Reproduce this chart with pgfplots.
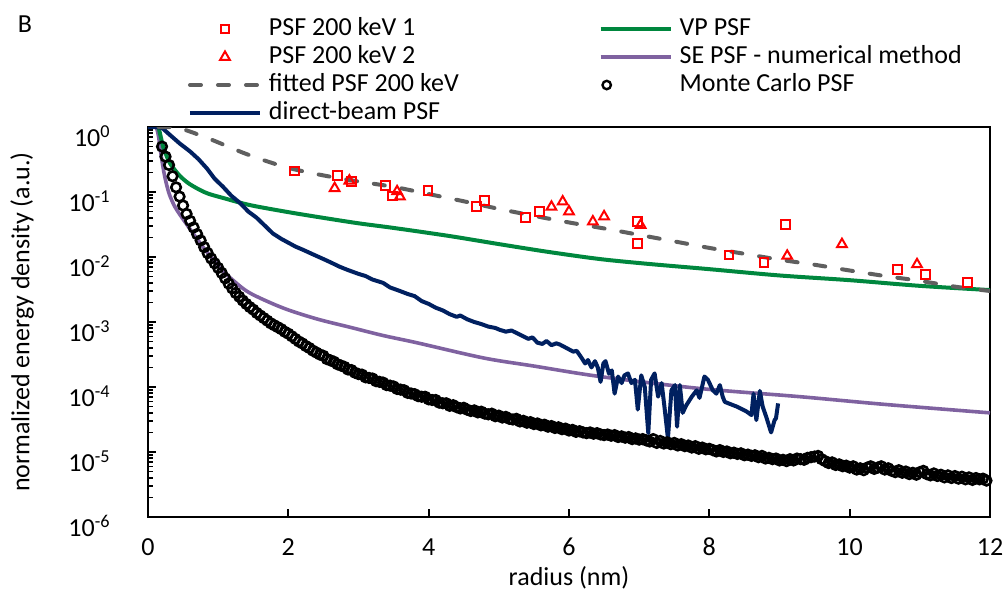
\documentclass[border=0pt]{standalone}
\usepackage{pgfplots}
\pgfplotsset{compat=1.18}
\usepackage{fontspec}
\setmainfont{Carlito}
\definecolor{vpgreen}{HTML}{00873E}
\definecolor{dbnavy}{HTML}{002060}
\definecolor{sepurple}{HTML}{7F62A0}
\definecolor{fitgray}{HTML}{5F5F5F}
\pgfplotsset{
  linelegend/.style={legend image code/.code={\draw[##1] (0bp,0bp) -- (35bp,0bp);}},
  marklegend/.style={legend image code/.code={\path[draw=none,fill=none] (0bp,0bp) (35bp,0bp); \path[##1, draw=none] plot coordinates {(#1,0bp)};}},
}
\begin{document}
\fontsize{13bp}{15.6bp}\selectfont
\begin{tikzpicture}
\begin{axis}[
  name=ax,
  scale only axis, width=421bp, height=195bp,
  xmin=0, xmax=12, ymode=log, ymin=1e-6, ymax=1,
  axis line style={line width=1.2bp, black},
  xtick={0,2,4,6,8,10,12},
  ytick={1e-6,1e-5,1e-4,1e-3,1e-2,1e-1,1},
  yticklabels={10\textsuperscript{-6},10\textsuperscript{-5},10\textsuperscript{-4},10\textsuperscript{-3},10\textsuperscript{-2},10\textsuperscript{-1},10\textsuperscript{0}},
  xtick pos=left, ytick pos=left,
  tick align=inside,
  major tick length=4bp, minor tick length=2.5bp,
  every tick/.style={black, line width=0.9bp},
  /pgf/number format/assume math mode=true,
  xticklabel style={anchor=base, inner sep=0pt, yshift=-19bp},
  yticklabel style={anchor=base east, inner sep=0pt, xshift=-18.5bp, yshift=-9.5bp},
  xlabel={radius (nm)}, ylabel={normalized energy density (a.u.)},
  every axis x label/.style={at={(axis description cs:0.5,-0.1744)}, anchor=base},
  every axis y label/.style={at={(axis description cs:-0.1496,0.5)}, anchor=center, rotate=90},
  clip mode=individual,
  legend columns=2, legend cell align=left,
  legend style={at={(axis description cs:0.0475,1.282)}, anchor=north west, draw=none, fill=none,
    inner sep=0pt, outer sep=0pt, row sep=2bp,
    nodes={inner sep=0pt, text height=9bp, text depth=3bp},
    /tikz/every odd column/.append style={column sep=3.5bp},
    /tikz/every even column/.append style={column sep=70bp}},
]
% legend entries (row-major order)
\addlegendimage{only marks, mark=square, red, line width=1bp, mark size=2.2bp, marklegend=17.5bp}
\addlegendentry{PSF 200 keV 1}
\addlegendimage{vpgreen, line width=2bp, linelegend}
\addlegendentry{VP PSF}
\addlegendimage{only marks, mark=triangle, red, line width=1bp, mark size=2.8bp, marklegend=17.5bp}
\addlegendentry{PSF 200 keV 2}
\addlegendimage{sepurple, line width=2bp, linelegend}
\addlegendentry{SE PSF - numerical method}
\addlegendimage{fitgray, line width=2bp, line cap=round, dash pattern=on 5.5bp off 8.5bp, linelegend}
\addlegendentry{fitted PSF 200 keV}
\addlegendimage{only marks, mark=o, black, line width=1.2bp, mark size=2.1bp, marklegend=3bp}
\addlegendentry{Monte Carlo PSF}
\addlegendimage{dbnavy, line width=2bp, linelegend}
\addlegendentry{direct-beam PSF}

% SE PSF - numerical method
\addplot[forget plot, sepurple, line width=1.8bp, smooth] coordinates {
(0.12,1.0) (0.15,0.72) (0.17,0.50) (0.20,0.30) (0.24,0.17) (0.30,0.095) (0.38,0.060)
(0.46,0.044) (0.55,0.032) (0.67,0.021) (0.80,0.0135) (0.92,0.0094) (1.05,0.0064)
(1.20,0.0045) (1.45,0.0028) (1.92,0.00165) (2.40,0.00112) (2.88,0.00083) (3.35,0.00062)
(3.83,0.00048) (4.78,0.00028) (5.50,0.00021) (6.44,0.000145) (7.86,9.5e-5) (9.29,7.1e-5)
(10.5,5.4e-5) (12.0,4.0e-5)
};
% VP PSF
\addplot[forget plot, vpgreen, line width=2bp, smooth] coordinates {
(0.15,1.0) (0.18,0.72) (0.22,0.48) (0.26,0.37) (0.31,0.28) (0.38,0.22) (0.46,0.174)
(0.57,0.138) (0.69,0.115) (0.85,0.095) (1.07,0.081) (1.45,0.063) (2.00,0.049) (2.50,0.040)
(3.00,0.033) (3.50,0.028) (4.30,0.021) (5.00,0.0158) (5.70,0.0120) (6.44,0.0093)
(7.15,0.0078) (8.00,0.0065) (9.00,0.0052) (10.0,0.0044) (11.0,0.0036) (12.0,0.0031)
};
% direct-beam PSF
\addplot[forget plot, dbnavy, line width=2bp, line join=round] coordinates {
(0.00,1.00) (0.10,1.00) (0.20,0.97) (0.31,0.76) (0.45,0.56) (0.60,0.42) (0.72,0.32)
(0.84,0.23) (0.95,0.16) (1.07,0.12) (1.19,0.087) (1.31,0.068) (1.43,0.050) (1.55,0.040)
(1.67,0.030) (1.78,0.023) (1.90,0.019) (2.00,0.0166) (2.10,0.0145) (2.21,0.0129)
(2.35,0.0110) (2.50,0.0093) (2.60,0.0083) (2.73,0.0071) (2.85,0.0063) (3.00,0.0055)
(3.10,0.0051) (3.20,0.0045) (3.35,0.0040) (3.45,0.0034) (3.59,0.0030) (3.70,0.0027)
(3.80,0.0025) (3.90,0.0021) (4.00,0.0019) (4.10,0.00166) (4.20,0.00151) (4.30,0.00132)
(4.40,0.00120) (4.45,0.00126) (4.55,0.00110) (4.65,0.00100) (4.75,0.00093) (4.85,0.00085)
(4.95,0.00081) (5.01,0.00076) (5.10,0.00071) (5.18,0.00074) (5.25,0.00068) (5.35,0.00060)
(5.42,0.00055) (5.48,0.00058) (5.55,0.00048) (5.62,0.00046) (5.68,0.00051) (5.75,0.00044)
(5.82,0.00047) (5.87,0.00045) (5.96,0.00040) (6.06,0.00035) (6.11,0.00036) (6.18,0.00028)
(6.23,0.00023) (6.27,0.00026) (6.32,0.00020) (6.37,0.00025) (6.41,0.00020) (6.45,0.00012)
(6.49,0.00023) (6.52,0.00025) (6.57,0.00016) (6.61,0.00018) (6.65,7.9e-5) (6.70,1.45e-4)
(6.75,1.15e-4) (6.79,1.51e-4) (6.84,1.62e-4) (6.89,1.15e-4) (6.94,1.29e-4) (6.98,4.5e-5)
(7.03,1.51e-4) (7.08,1.0e-4) (7.13,1.95e-5) (7.17,1.29e-4) (7.22,1.62e-4) (7.27,7.1e-5)
(7.32,1.15e-4) (7.36,5.0e-5) (7.41,1.62e-5) (7.46,8.9e-5) (7.51,1.07e-4) (7.54,2.45e-5)
(7.58,1.07e-4) (7.62,4.0e-5) (7.67,5.2e-5) (7.75,7.1e-5) (7.82,8.9e-5) (7.86,6.8e-5)
(7.93,1.45e-4) (7.98,1.29e-4) (8.05,8.9e-5) (8.10,7.9e-5) (8.15,1.07e-4) (8.19,7.1e-5)
(8.22,5.9e-5) (8.39,5.0e-5) (8.53,4.2e-5) (8.60,3.7e-5) (8.63,7.9e-5) (8.67,3.1e-5)
(8.72,8.7e-5) (8.76,5.0e-5) (8.81,3.5e-5) (8.88,2.0e-5) (8.93,3.1e-5) (8.95,3.3e-5)
(8.98,5.6e-5)
};
% Monte Carlo PSF
\addplot[forget plot, only marks, mark=o, mark size=2.4bp, mark options={black, line width=1.3bp}] coordinates {
(0.15,1.05) (0.20,0.50) (0.25,0.35) (0.30,0.26) (0.35,0.175) (0.40,0.118) (0.45,0.085)
(0.50,0.062) (0.55,0.046) (0.60,0.036) (0.65,0.0285) (0.70,0.0225) (0.75,0.0180) (0.80,0.0142)
(0.85,0.0115) (0.90,0.0095) (0.95,0.0080) (1.00,0.0068) (1.05,0.0057) (1.10,0.0047)
(1.15,0.0039) (1.20,0.0033) (1.25,0.0028) (1.30,0.00245) (1.35,0.00214) (1.40,0.0019)
(1.45,0.0017) (1.50,0.00155) (1.55,1.38e-3) (1.60,1.26e-3) (1.65,1.15e-3) (1.70,1.05e-3)
(1.75,9.55e-4) (1.80,8.91e-4) (1.85,8.32e-4) (1.90,7.76e-4) (1.95,7.08e-4) (2.00,6.61e-4)
(2.05,6.03e-4) (2.10,5.50e-4) (2.15,5.01e-4) (2.20,4.68e-4) (2.25,4.27e-4) (2.30,3.98e-4)
(2.35,3.63e-4) (2.40,3.39e-4) (2.45,3.16e-4) (2.50,3.02e-4) (2.55,2.69e-4) (2.60,2.57e-4)
(2.65,2.45e-4) (2.70,2.24e-4) (2.75,2.14e-4) (2.80,2.04e-4) (2.85,1.86e-4) (2.90,1.82e-4)
(2.95,1.66e-4) (3.00,1.58e-4) (3.05,1.55e-4) (3.10,1.41e-4) (3.15,1.38e-4) (3.20,1.35e-4)
(3.25,1.23e-4) (3.30,1.20e-4) (3.35,1.17e-4) (3.40,1.07e-4) (3.45,1.05e-4) (3.50,1.02e-4)
(3.55,9.33e-5) (3.60,9.12e-5) (3.65,8.91e-5) (3.70,8.13e-5) (3.75,7.94e-5) (3.80,7.76e-5)
(3.85,7.24e-5) (3.90,7.08e-5) (3.95,7.08e-5) (4.00,6.46e-5) (4.05,6.31e-5) (4.10,6.31e-5)
(4.15,5.75e-5) (4.20,5.62e-5) (4.25,5.62e-5) (4.30,5.13e-5) (4.35,5.25e-5) (4.40,4.90e-5)
(4.45,4.68e-5) (4.50,4.79e-5) (4.55,4.47e-5) (4.60,4.27e-5) (4.65,4.37e-5) (4.70,4.07e-5)
(4.75,4.17e-5) (4.80,3.89e-5) (4.85,3.80e-5) (4.90,3.89e-5) (4.95,3.55e-5) (5.00,3.63e-5)
(5.05,3.39e-5) (5.10,3.47e-5) (5.15,3.24e-5) (5.20,3.16e-5) (5.25,3.24e-5) (5.30,2.95e-5)
(5.35,3.02e-5) (5.40,2.82e-5) (5.45,2.88e-5) (5.50,2.69e-5) (5.55,2.75e-5) (5.60,2.57e-5)
(5.65,2.63e-5) (5.70,2.45e-5) (5.75,2.51e-5) (5.80,2.34e-5) (5.85,2.40e-5) (5.90,2.24e-5)
(5.95,2.29e-5) (6.00,2.14e-5) (6.05,2.19e-5) (6.10,2.04e-5) (6.15,2.09e-5) (6.20,2.00e-5)
(6.25,1.95e-5) (6.30,2.00e-5) (6.35,1.91e-5) (6.40,1.95e-5) (6.45,1.86e-5) (6.50,1.82e-5)
(6.55,1.86e-5) (6.60,1.78e-5) (6.65,1.82e-5) (6.70,1.70e-5) (6.75,1.74e-5) (6.80,1.66e-5)
(6.85,1.70e-5) (6.90,1.58e-5) (6.95,1.62e-5) (7.00,1.55e-5) (7.05,1.58e-5) (7.10,1.51e-5)
(7.15,1.45e-5) (7.20,1.58e-5) (7.25,1.38e-5) (7.30,1.48e-5) (7.35,1.35e-5) (7.40,1.41e-5)
(7.45,1.32e-5) (7.50,1.38e-5) (7.55,1.26e-5) (7.60,1.32e-5) (7.65,1.23e-5) (7.70,1.26e-5)
(7.75,1.17e-5) (7.80,1.23e-5) (7.85,1.12e-5) (7.90,1.17e-5) (7.95,1.10e-5) (8.00,1.12e-5)
(8.05,1.07e-5) (8.10,1.02e-5) (8.15,1.07e-5) (8.20,1.00e-5) (8.25,1.02e-5) (8.30,9.55e-6)
(8.35,9.77e-6) (8.40,9.33e-6) (8.45,9.55e-6) (8.50,8.91e-6) (8.55,9.12e-6) (8.60,8.71e-6)
(8.65,8.91e-6) (8.70,8.32e-6) (8.75,8.71e-6) (8.80,7.94e-6) (8.85,8.13e-6) (8.90,7.76e-6)
(8.95,7.94e-6) (9.00,7.41e-6) (9.05,7.59e-6) (9.10,7.24e-6) (9.15,7.76e-6) (9.20,7.41e-6)
(9.25,7.94e-6) (9.30,7.76e-6) (9.35,7.59e-6) (9.40,8.13e-6) (9.45,8.32e-6) (9.50,8.51e-6)
(9.55,8.71e-6) (9.60,7.76e-6) (9.65,7.24e-6) (9.70,6.76e-6) (9.75,6.92e-6) (9.80,6.31e-6)
(9.85,6.46e-6) (9.90,6.03e-6) (9.95,6.17e-6) (10.00,5.75e-6) (10.05,6.03e-6) (10.10,5.37e-6)
(10.15,5.62e-6) (10.20,5.25e-6) (10.25,5.75e-6) (10.30,6.03e-6) (10.35,5.50e-6) (10.40,5.75e-6)
(10.45,6.03e-6) (10.50,5.37e-6) (10.55,5.62e-6) (10.60,5.13e-6) (10.65,4.90e-6) (10.70,5.25e-6)
(10.75,4.79e-6) (10.80,5.01e-6) (10.85,4.57e-6) (10.90,4.79e-6) (10.95,4.47e-6) (11.00,4.90e-6)
(11.05,5.13e-6) (11.10,4.57e-6) (11.15,4.37e-6) (11.20,4.68e-6) (11.25,4.27e-6) (11.30,4.47e-6)
(11.35,4.07e-6) (11.40,4.37e-6) (11.45,3.98e-6) (11.50,4.27e-6) (11.55,3.89e-6) (11.60,4.17e-6)
(11.65,3.80e-6) (11.70,4.07e-6) (11.75,3.72e-6) (11.80,3.98e-6) (11.85,3.80e-6) (11.90,3.89e-6)
(11.95,3.63e-6)
};
% fitted PSF 200 keV
\addplot[forget plot, fitgray, line width=2bp, line cap=round, dash pattern=on 5.5bp off 8.5bp, smooth] coordinates {
(0.15,1.0) (0.40,0.98) (0.60,0.85) (0.84,0.68) (1.00,0.58) (1.31,0.42) (1.57,0.33)
(2.00,0.235) (2.50,0.18) (3.00,0.145) (3.50,0.120) (4.00,0.093) (4.50,0.072) (5.00,0.055)
(5.50,0.043) (6.00,0.034) (6.50,0.0275) (7.00,0.0219) (7.50,0.0174) (8.00,0.0138)
(8.50,0.0112) (9.00,0.0091) (9.50,0.0076) (10.0,0.0062) (10.5,0.0051) (11.0,0.0043)
(11.5,0.0035) (12.0,0.0030)
};
% PSF 200 keV 2
\addplot[forget plot, only marks, mark=triangle, mark size=2.8bp, mark options={red, line width=1bp}] coordinates {
(2.66,0.114) (2.87,0.149) (3.55,0.102) (3.59,0.085) (5.75,0.059) (5.91,0.071) (6.00,0.050)
(6.34,0.035) (6.50,0.042) (7.02,0.031) (9.11,0.0104) (9.89,0.0157) (10.96,0.0077)
};
% PSF 200 keV 1
\addplot[forget plot, only marks, mark=square, mark size=2.2bp, mark options={red, line width=1bp}] coordinates {
(2.09,0.21) (2.70,0.18) (2.90,0.144) (3.39,0.125) (3.49,0.087) (3.99,0.105) (4.68,0.059)
(4.79,0.073) (5.38,0.041) (5.58,0.050) (6.98,0.035) (6.98,0.016) (8.28,0.0107) (8.78,0.0082)
(9.08,0.032) (10.68,0.0065) (11.08,0.0054) (11.68,0.0040)
};
\node at (axis description cs:-0.146,1.264) {B};
\end{axis}
\pgfresetboundingbox
\path[use as bounding box] ([xshift=-74bp,yshift=-42bp]ax.south west) rectangle ([xshift=8.5bp,yshift=63.5bp]ax.north east);
\end{tikzpicture}
\end{document}
